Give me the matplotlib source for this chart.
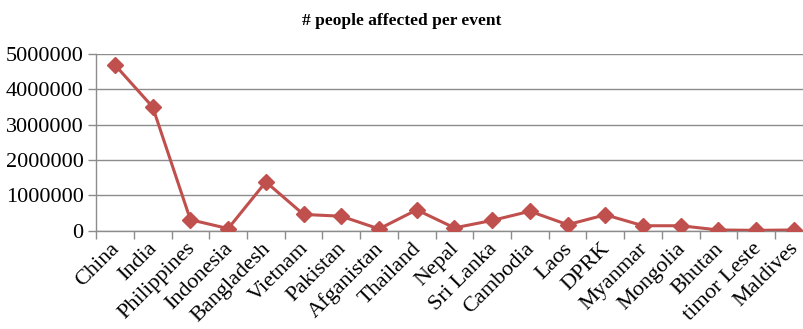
import numpy as np
import matplotlib
matplotlib.use("Agg")
import matplotlib.pyplot as plt
import matplotlib.transforms as mtrans

countries = ["China", "India", "Philippines", "Indonesia", "Bangladesh", "Vietnam",
             "Pakistan", "Afganistan", "Thailand", "Nepal", "Sri Lanka", "Cambodia",
             "Laos", "DPRK", "Myanmar", "Mongolia", "Bhutan", "timor Leste", "Maldives"]
affected = [4690000, 3500000, 310000, 60000, 1380000, 460000,
            410000, 50000, 590000, 80000, 290000, 550000,
            170000, 450000, 140000, 140000, 20000, 10000, 20000]
yticks = [0, 1000000, 2000000, 3000000, 4000000, 5000000]

red = "#C0504D"
grid = "#8C8C8C"
plt.rcParams["font.family"] = ["Liberation Serif", "DejaVu Serif"]

fig = plt.figure(figsize=(8.04, 3.29), dpi=100)
ax = fig.add_axes([96.1 / 804, 0.2988, 716.7 / 804, 0.8359 - 0.2988])

x = np.arange(len(countries))
ax.plot(x, affected, color=red, lw=2.2, marker="D", ms=8.5,
        markerfacecolor=red, markeredgecolor=red, zorder=3)

ax.set_xlim(-0.5, len(countries) - 0.5)
ax.set_ylim(0, 5000000)
ax.set_yticks(yticks)
ax.set_yticklabels([str(v) for v in yticks], fontsize=16)
ax.yaxis.grid(True, color=grid, lw=1)
ax.set_axisbelow(True)

# category ticks sit between the labels, labels go on minor ticks
ax.set_xticks(np.arange(-0.5, len(countries), 1.0))
ax.set_xticklabels([])
ax.set_xticks(x, minor=True)
ax.set_xticklabels(countries, minor=True, rotation=45, ha="right", va="center",
                   rotation_mode="anchor", fontsize=16)
ax.tick_params(axis="x", which="major", length=6, color=grid, width=1)
ax.tick_params(axis="x", which="minor", length=0, pad=11)
ax.tick_params(axis="y", length=6, color=grid, width=1, pad=3)

shift = mtrans.ScaledTranslation(2 / 100, 0, fig.dpi_scale_trans)
for lab in ax.get_xticklabels(minor=True):
    lab.set_transform(lab.get_transform() + shift)

for side in ["top", "right"]:
    ax.spines[side].set_visible(False)
for side in ["left", "bottom"]:
    ax.spines[side].set_color(grid)
    ax.spines[side].set_linewidth(1)

fig.text(0.5, 0.935, "# people affected per event", ha="center", va="center",
         fontsize=12.5, fontweight="bold")

fig.savefig("out.png", dpi=100)
